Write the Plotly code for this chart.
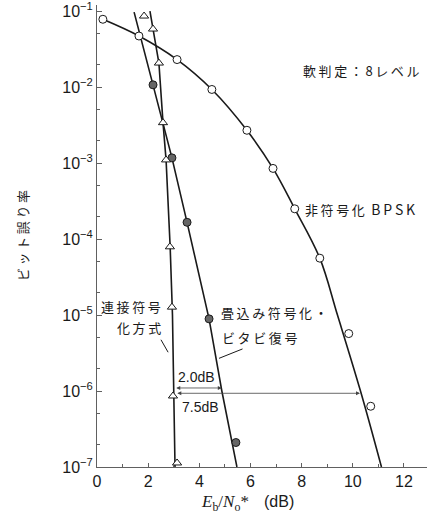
import plotly.graph_objects as go

# ---- data ----
bpsk_mx = [0.23, 1.64, 3.13, 4.49, 5.86, 6.88, 7.73, 8.71, 9.84, 10.7]
bpsk_my = [7.8e-2, 4.7e-2, 2.3e-2, 9.3e-3, 2.7e-3, 8.5e-4, 2.5e-4, 5.6e-5, 5.7e-6, 6.3e-7]
bpsk_lx = [0.23, 1.64, 3.13, 4.49, 5.86, 6.88, 7.73, 8.71, 9.4, 10.3, 11.12]
bpsk_ly = [7.8e-2, 4.7e-2, 2.3e-2, 9.3e-3, 2.7e-3, 8.5e-4, 2.5e-4, 5.6e-5, 1e-5, 1e-6, 1e-7]

conv_mx = [2.19, 2.93, 3.52, 4.38, 5.43]
conv_my = [1.07e-2, 1.17e-3, 1.66e-4, 8.9e-6, 2.1e-7]
conv_lx = [1.45, 2.19, 2.93, 3.52, 4.38, 4.88, 5.47]
conv_ly = [9.7e-2, 1.07e-2, 1.17e-3, 1.66e-4, 8.9e-6, 1e-6, 1e-7]

cat_mx = [1.84, 2.19, 2.42, 2.58, 2.70, 2.85, 2.93, 2.97, 3.13]
cat_my = [8.6e-2, 5.8e-2, 2.07e-2, 3.4e-3, 1.1e-3, 7.9e-5, 1.27e-5, 8.6e-7, 1.13e-7]
cat_lx = [2.07, 2.19, 2.42, 2.58, 2.70, 2.86, 2.95, 3.0, 3.05]
cat_ly = [1e-1, 5.8e-2, 2.07e-2, 3.4e-3, 1.1e-3, 7.9e-5, 1e-5, 1e-6, 1e-7]

x_ticks = [0, 2, 4, 6, 8, 10, 12]
y_exps = [-7, -6, -5, -4, -3, -2, -1]

JP = "Noto Sans CJK JP"
SANS = "Liberation Sans"
INK = "#1a1a1a"
AX = "#606060"
JPS = 13

def sp(s):
    """add thin spaces between characters (wide old-style typesetting)"""
    return "\u2009".join(list(s))

fig = go.Figure()

def line(x, y, shape="linear"):
    fig.add_trace(go.Scatter(x=x, y=y, mode="lines", line=dict(color=INK, width=1.6, shape=shape),
                             showlegend=False, hoverinfo="skip"))

line(bpsk_lx, bpsk_ly, "spline")
line(conv_lx, conv_ly)
line(cat_lx, cat_ly)

fig.add_trace(go.Scatter(x=bpsk_mx, y=bpsk_my, mode="markers",
                         marker=dict(symbol="circle", size=8, color="white", line=dict(color=INK, width=1)),
                         showlegend=False))
fig.add_trace(go.Scatter(x=conv_mx, y=conv_my, mode="markers",
                         marker=dict(symbol="circle", size=8, color="#666666", line=dict(color=INK, width=1)),
                         showlegend=False))
fig.add_trace(go.Scatter(x=cat_mx, y=cat_my, mode="markers",
                         marker=dict(symbol="triangle-up", size=8, color="white", line=dict(color=INK, width=1)),
                         showlegend=False))

ann = []
def txt(x, ylog, s, xanchor="left", size=JPS, family=JP):
    ann.append(dict(x=x, y=ylog, xref="x", yref="y", text=s, showarrow=False,
                    xanchor=xanchor, yanchor="middle", font=dict(family=family, size=size, color=INK)))

txt(7.97, -1.78, sp("軟判定：8レベル"))
txt(8.05, -3.60, sp("非符号化") + "\u2002" + "<span style='font-size:14px'>" + sp("BPSK") + "</span>")
txt(2.58, -4.89, sp("連接符号"), xanchor="right")
txt(2.58, -5.16, sp("化方式"), xanchor="right")
txt(4.76, -4.97, sp("畳込み符号化・"))
txt(4.80, -5.30, sp("ビタビ復号"))
txt(3.9, -5.82, "2.0dB", xanchor="center", size=14, family=SANS)
txt(4.06, -6.21, "7.5dB", xanchor="center", size=14, family=SANS)

# leader lines
ann.append(dict(x=2.78, y=-5.49, xref="x", yref="y", text="", showarrow=True, arrowhead=0,
                arrowwidth=1, arrowcolor=INK, ax=-8, ay=-14))
ann.append(dict(x=4.77, y=-5.57, xref="x", yref="y", text="", showarrow=True, arrowhead=0,
                arrowwidth=1, arrowcolor=INK, ax=25, ay=-10))

# dB difference arrows
for x0, x1, yl in [(3.04, 4.88, -5.96), (3.08, 10.28, -6.03)]:
    ann.append(dict(x=x1, y=yl, ax=x0, ay=yl, xref="x", yref="y", axref="x", ayref="y",
                    text="", showarrow=True, arrowhead=2, arrowside="end+start", arrowsize=1,
                    arrowwidth=0.8, arrowcolor="#444444", standoff=0, startstandoff=0))

# axis titles
ann.append(dict(x=(22 - 97) / 330, y=0.5, xref="paper", yref="paper", text=sp("ビット誤り率"), textangle=-90,
                showarrow=False, xanchor="center", yanchor="middle",
                font=dict(family=JP, size=JPS, color=INK)))
ann.append(dict(x=(251 - 97) / 330, y=0, xref="paper", yref="paper", yshift=-36,
                text="<i>E</i><sub>b</sub>/<i>N</i><sub>o</sub>*", showarrow=False,
                xanchor="right", yanchor="middle", font=dict(family="Liberation Serif", size=17, color=INK)))
ann.append(dict(x=(262 - 97) / 330, y=0, xref="paper", yref="paper", yshift=-34,
                text="(dB)", showarrow=False,
                xanchor="left", yanchor="middle", font=dict(family=SANS, size=16, color=INK)))

minor_y = [m * 10.0 ** e for e in range(-7, -1) for m in (2, 5)] + [2e-1]

fig.update_layout(
    width=428, height=518,
    margin=dict(l=97, r=1, t=5, b=51, autoexpand=False),
    paper_bgcolor="white", plot_bgcolor="white",
    annotations=ann,
    xaxis=dict(range=[0, 12.9], showgrid=False, zeroline=False, automargin=False,
               showline=True, linecolor=AX, linewidth=1,
               tickmode="array", tickvals=x_ticks, ticktext=[str(v) for v in x_ticks],
               ticks="inside", ticklen=4, tickcolor=AX, ticklabeloverflow="allow",
               minor=dict(tickmode="linear", tick0=0, dtick=1, ticks="inside", ticklen=3, tickcolor=AX),
               tickfont=dict(family=SANS, size=16, color=INK)),
    yaxis=dict(type="log", range=[-7, -0.92], showgrid=False, zeroline=False, automargin=False,
               showline=True, linecolor=AX, linewidth=1,
               tickmode="array", tickvals=[10.0 ** e for e in y_exps],
               ticktext=["10<sup>\u2212%d</sup>" % (-e) for e in y_exps],
               ticks="inside", ticklen=5, tickcolor=AX, ticklabeloverflow="allow",
               minor=dict(tickmode="array", tickvals=minor_y, ticks="inside", ticklen=3, tickcolor=AX),
               tickfont=dict(family=SANS, size=16, color=INK)),
)

fig.write_html("out.html", config={"displayModeBar": False},
               post_script="document.body.style.margin='0px';")
